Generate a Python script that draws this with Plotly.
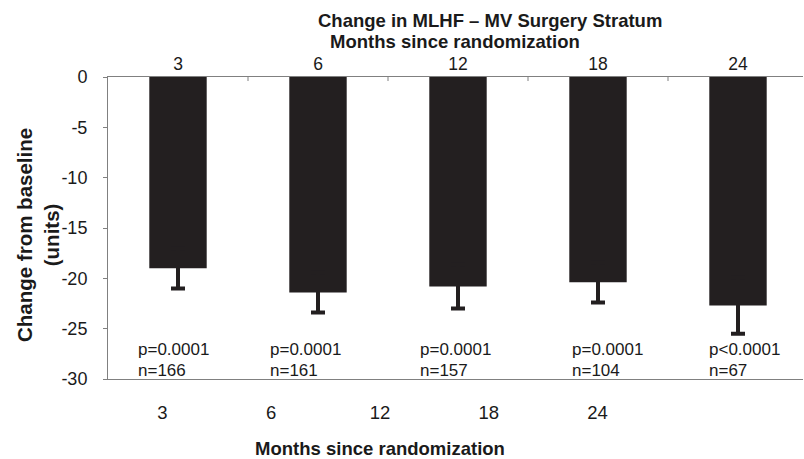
import plotly.graph_objects as go

# Data: change in MLHF score from baseline, MV surgery stratum
months = ["3", "6", "12", "18", "24"]
mean_change = [-19.0, -21.4, -20.8, -20.4, -22.7]
se_minus = [2.0, 2.0, 2.2, 2.0, 2.8]
p_labels = ["p=0.0001", "p=0.0001", "p=0.0001", "p=0.0001", "p<0.0001"]
n_labels = ["n=166", "n=161", "n=157", "n=104", "n=67"]
y_ticks = [0, -5, -10, -15, -20, -25, -30]

# horizontal placement of the p / n text blocks (left edge, in category units)
label_offsets = [-0.30, -0.36, -0.285, -0.20, -0.22]

FONT = "Liberation Sans, Arial, sans-serif"
INK = "#1a1a1a"
BAR = "#231f20"
LINE = "#808080"

W, H = 804, 459
L, R, T, B = 108, 1, 77, 80
pw, ph = W - L - R, H - T - B


def px_x(x):
    return (x - L) / pw


def px_y(y):
    return 1 + (T - y) / ph


fig = go.Figure()
fig.add_trace(go.Bar(
    x=list(range(len(months))),
    y=mean_change,
    width=0.41,
    marker=dict(color=BAR, line=dict(width=0)),
    error_y=dict(type="data", symmetric=True, array=se_minus,
                 color=BAR, thickness=4, width=7),
    showlegend=False,
    hoverinfo="skip",
))
# carrier for the lower month axis
fig.add_trace(go.Scatter(
    x=list(range(len(months))), y=mean_change, xaxis="x2", yaxis="y",
    mode="markers", marker=dict(opacity=0), showlegend=False, hoverinfo="skip",
))

annotations = []
for i, (p, n, off) in enumerate(zip(p_labels, n_labels, label_offsets)):
    annotations.append(dict(x=i + off, y=-27.1, xref="x", yref="y", text=p,
                            showarrow=False, xanchor="left", yanchor="middle",
                            font=dict(family=FONT, size=17, color=INK)))
    annotations.append(dict(x=i + off, y=-29.2, xref="x", yref="y", text=n,
                            showarrow=False, xanchor="left", yanchor="middle",
                            font=dict(family=FONT, size=17, color=INK)))

# chart titles
annotations.append(dict(x=px_x(490), y=px_y(21), xref="paper", yref="paper",
                        text="<b>Change in MLHF \u2013 MV Surgery Stratum</b>",
                        showarrow=False, xanchor="center", yanchor="middle",
                        font=dict(family=FONT, size=18.5, color=INK)))
annotations.append(dict(x=px_x(455), y=px_y(42), xref="paper", yref="paper",
                        text="<b>Months since randomization</b>",
                        showarrow=False, xanchor="center", yanchor="middle",
                        font=dict(family=FONT, size=18.5, color=INK)))

# y-axis title
annotations.append(dict(x=px_x(38), y=px_y(235), xref="paper", yref="paper",
                        text="<b>Change from baseline<br>(units)</b>", textangle=-90,
                        showarrow=False, xanchor="center", yanchor="middle",
                        font=dict(family=FONT, size=20.5, color=INK)))

slot_px = 140
x_hi = -0.5 + pw / slot_px

fig.update_layout(
    width=W, height=H,
    margin=dict(l=L, r=R, t=T, b=B, pad=0),
    paper_bgcolor="white", plot_bgcolor="rgba(0,0,0,0)",
    font=dict(family=FONT, color=INK),
    xaxis=dict(
        side="top", range=[-0.5, x_hi],
        tickmode="array", tickvals=list(range(len(months))), ticktext=months,
        tickfont=dict(size=17.5, color=INK),
        ticks="", showgrid=False, zeroline=False,
        showline=True, linecolor=LINE, linewidth=1, mirror=True,
        ticklabelstandoff=-1,
    ),
    xaxis2=dict(
        domain=[0, px_x(652)], anchor="y", side="bottom",
        range=[-0.5, 4.5],
        tickmode="array", tickvals=list(range(len(months))), ticktext=months,
        tickfont=dict(size=18.5, color=INK),
        ticks="", showgrid=False, zeroline=False, showline=False,
        ticklabelstandoff=20,
        title=dict(text="<b>Months since randomization</b>",
                   font=dict(size=18.5, color=INK), standoff=22),
    ),
    yaxis=dict(
        range=[-30, 0], tickmode="array", tickvals=y_ticks,
        ticktext=[str(v) for v in y_ticks],
        tickfont=dict(size=18, color=INK),
        ticks="outside", ticklen=4, tickcolor=LINE,
        showgrid=False, zeroline=False,
        showline=True, linecolor=LINE, linewidth=1,
        ticklabelstandoff=12,
    ),
    annotations=annotations,
)

# category boundary marks along the top edge
for k in range(1, len(months)):
    fig.add_shape(type="line", xref="x", yref="y", x0=k - 0.5, x1=k - 0.5, y0=0, y1=-0.4,
                  line=dict(color=LINE, width=1))

fig.write_html("out.html")
